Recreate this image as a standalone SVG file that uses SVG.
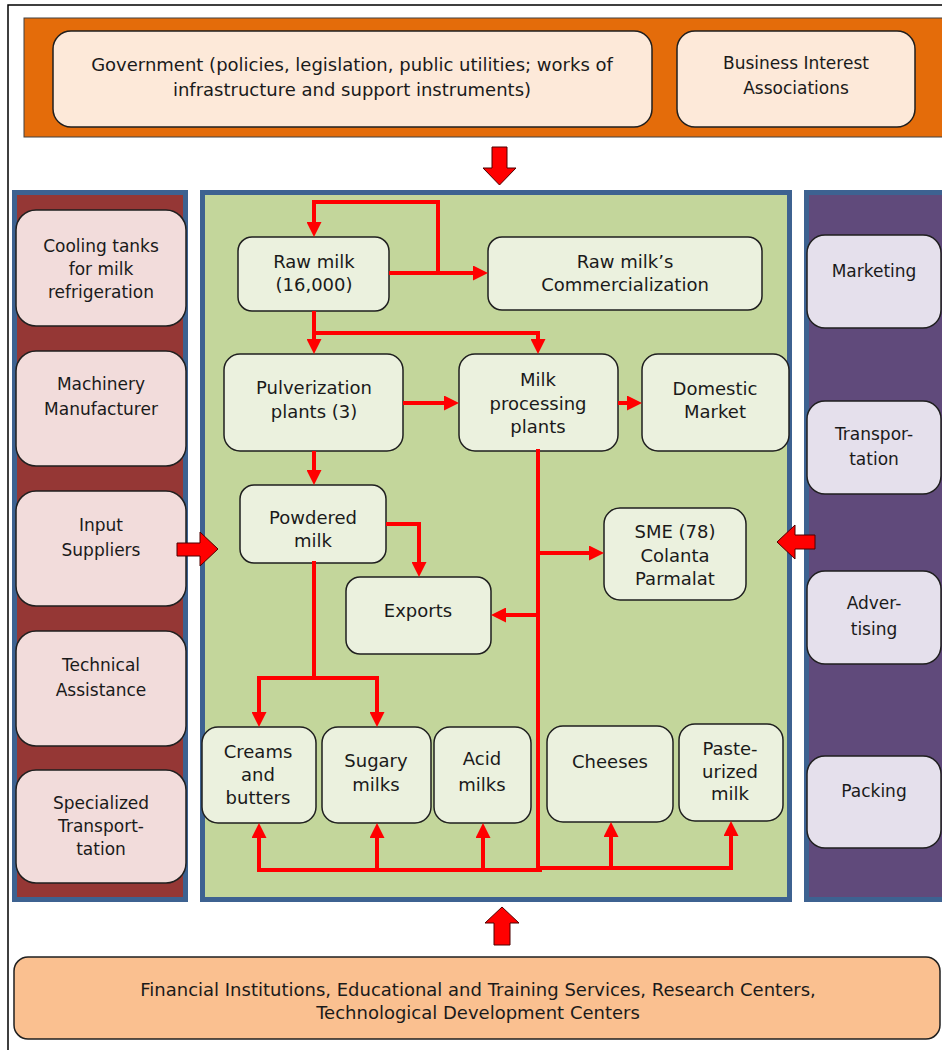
<svg xmlns="http://www.w3.org/2000/svg" width="942" height="1050" viewBox="0 0 942 1050">
  <style>
    text { font-family: "DejaVu Sans", "Liberation Sans", sans-serif; fill: #1a1a1a; text-anchor: middle; }
    .t17 { font-size: 17px; }
    .t18 { font-size: 18px; }
    .panel { stroke: #3d6291; stroke-width: 5; }
    .box { stroke: #1f1f1f; stroke-width: 1.5; }
    .pink { fill: #f2dcdb; }
    .green { fill: #ebf1de; }
    .lilac { fill: #e5e0ec; }
    .peach { fill: #fde9d9; }
    .flow { fill: none; stroke: #ff0000; stroke-width: 4; stroke-linejoin: miter; }
    .bus { fill: none; stroke: #ff0000; stroke-width: 4; stroke-linecap: square; }
    .arrow { marker-end: url(#head); }
    .block { fill: #ff0000; stroke: #4d0000; stroke-width: 1; }
  </style>
  <defs>
    <marker id="head" viewBox="0 0 15 15" refX="10" refY="7.5" markerWidth="15" markerHeight="15" markerUnits="userSpaceOnUse" orient="auto">
      <path d="M0,0 L15,7.5 L0,15 z" fill="#ff0000"/>
    </marker>
  </defs>

  <!-- page frame -->
  <rect x="8" y="5" width="960" height="1060" fill="#ffffff" stroke="#000000" stroke-width="1.5"/>

  <!-- top band: public sector and associations -->
  <g id="top-band">
    <rect x="24" y="18" width="930" height="119" fill="#e46c0a" stroke="#404040" stroke-width="1"/>
  </g>
  <g id="government">
    <rect class="box peach" x="53" y="31" width="599" height="96" rx="18"/>
    <text class="t18" x="352" y="71">Government (policies, legislation, public utilities; works of</text>
    <text class="t18" x="352" y="96">infrastructure and support instruments)</text>
  </g>
  <g id="business-associations">
    <rect class="box peach" x="677" y="31" width="238" height="96" rx="18"/>
    <text class="t17" x="796" y="69">Business Interest</text>
    <text class="t17" x="796" y="94">Associations</text>
  </g>

  <!-- side and central panels -->
  <g id="panel-suppliers">
    <rect class="panel" x="14.5" y="192.5" width="171" height="707" fill="#953735"/>
  </g>
  <g id="panel-chain">
    <rect class="panel" x="202.5" y="192.5" width="587" height="707" fill="#c3d69b"/>
  </g>
  <g id="panel-services">
    <rect class="panel" x="806.5" y="192.5" width="160" height="707" fill="#604a7b"/>
  </g>

  <!-- supplier column -->
  <g id="cooling-tanks">
    <rect class="box pink" x="16" y="210" width="170" height="116" rx="20"/>
    <text class="t17" x="101" y="252">Cooling tanks</text>
    <text class="t17" x="101" y="275">for milk</text>
    <text class="t17" x="101" y="298">refrigeration</text>
  </g>
  <g id="machinery">
    <rect class="box pink" x="16" y="351" width="170" height="115" rx="20"/>
    <text class="t17" x="101" y="390">Machinery</text>
    <text class="t17" x="101" y="415">Manufacturer</text>
  </g>
  <g id="input-suppliers">
    <rect class="box pink" x="16" y="491" width="170" height="115" rx="20"/>
    <text class="t17" x="101" y="531">Input</text>
    <text class="t17" x="101" y="556">Suppliers</text>
  </g>
  <g id="technical-assistance">
    <rect class="box pink" x="16" y="631" width="170" height="115" rx="20"/>
    <text class="t17" x="101" y="671">Technical</text>
    <text class="t17" x="101" y="696">Assistance</text>
  </g>
  <g id="specialized-transport">
    <rect class="box pink" x="16" y="770" width="170" height="113" rx="20"/>
    <text class="t17" x="101" y="809">Specialized</text>
    <text class="t17" x="101" y="832">Transport-</text>
    <text class="t17" x="101" y="855">tation</text>
  </g>

  <!-- services column -->
  <g id="marketing">
    <rect class="box lilac" x="807" y="235" width="134" height="93" rx="18"/>
    <text class="t17" x="874" y="277">Marketing</text>
  </g>
  <g id="transportation">
    <rect class="box lilac" x="807" y="401" width="134" height="93" rx="18"/>
    <text class="t17" x="874" y="440">Transpor-</text>
    <text class="t17" x="874" y="465">tation</text>
  </g>
  <g id="advertising">
    <rect class="box lilac" x="807" y="571" width="134" height="93" rx="18"/>
    <text class="t17" x="874" y="609">Adver-</text>
    <text class="t17" x="874" y="635">tising</text>
  </g>
  <g id="packing">
    <rect class="box lilac" x="807" y="756" width="134" height="92" rx="18"/>
    <text class="t17" x="874" y="797">Packing</text>
  </g>

  <!-- dairy chain nodes -->
  <g id="raw-milk">
    <rect class="box green" x="238" y="237" width="151" height="74" rx="14"/>
    <text class="t18" x="314" y="268">Raw milk</text>
    <text class="t18" x="314" y="291">(16,000)</text>
  </g>
  <g id="raw-milk-commercialization">
    <rect class="box green" x="488" y="237" width="274" height="73" rx="14"/>
    <text class="t18" x="625" y="268">Raw milk’s</text>
    <text class="t18" x="625" y="291">Commercialization</text>
  </g>
  <g id="pulverization">
    <rect class="box green" x="224" y="354" width="179" height="97" rx="16"/>
    <text class="t18" x="314" y="394">Pulverization</text>
    <text class="t18" x="314" y="418">plants (3)</text>
  </g>
  <g id="milk-processing">
    <rect class="box green" x="459" y="354" width="159" height="97" rx="16"/>
    <text class="t18" x="538" y="386">Milk</text>
    <text class="t18" x="538" y="410">processing</text>
    <text class="t18" x="538" y="433">plants</text>
  </g>
  <g id="domestic-market">
    <rect class="box green" x="642" y="354" width="147" height="97" rx="16"/>
    <text class="t18" x="715" y="395">Domestic</text>
    <text class="t18" x="715" y="418">Market</text>
  </g>
  <g id="powdered-milk">
    <rect class="box green" x="240" y="485" width="146" height="78" rx="14"/>
    <text class="t18" x="313" y="524">Powdered</text>
    <text class="t18" x="313" y="547">milk</text>
  </g>
  <g id="sme">
    <rect class="box green" x="604" y="508" width="142" height="92" rx="16"/>
    <text class="t18" x="675" y="538">SME (78)</text>
    <text class="t18" x="675" y="562">Colanta</text>
    <text class="t18" x="675" y="585">Parmalat</text>
  </g>
  <g id="exports">
    <rect class="box green" x="346" y="577" width="145" height="77" rx="14"/>
    <text class="t18" x="418" y="617">Exports</text>
  </g>
  <g id="creams-butters">
    <rect class="box green" x="202" y="727" width="114" height="96" rx="16"/>
    <text class="t18" x="258" y="758">Creams</text>
    <text class="t18" x="258" y="781">and</text>
    <text class="t18" x="258" y="804">butters</text>
  </g>
  <g id="sugary-milks">
    <rect class="box green" x="322" y="727" width="109" height="96" rx="16"/>
    <text class="t18" x="376" y="767">Sugary</text>
    <text class="t18" x="376" y="791">milks</text>
  </g>
  <g id="acid-milks">
    <rect class="box green" x="434" y="727" width="97" height="96" rx="16"/>
    <text class="t18" x="482" y="765">Acid</text>
    <text class="t18" x="482" y="791">milks</text>
  </g>
  <g id="cheeses">
    <rect class="box green" x="547" y="726" width="126" height="96" rx="16"/>
    <text class="t18" x="610" y="768">Cheeses</text>
  </g>
  <g id="pasteurized-milk">
    <rect class="box green" x="679" y="724" width="104" height="97" rx="16"/>
    <text class="t18" x="730" y="755">Paste-</text>
    <text class="t18" x="730" y="778">urized</text>
    <text class="t18" x="730" y="800">milk</text>
  </g>

  <!-- support institutions -->
  <g id="institutions">
    <rect class="box" x="14" y="957" width="926" height="82" rx="14" fill="#fac090"/>
    <text class="t18" x="478" y="996">Financial Institutions, Educational and Training Services, Research Centers,</text>
    <text class="t18" x="478" y="1019">Technological Development Centers</text>
  </g>

  <!-- flows between nodes -->
  <g id="connectors">
    <path class="flow arrow" d="M438,273 V202 H314 V232"/>
    <path class="flow arrow" d="M389,273 H483"/>
    <path class="flow arrow" d="M314,311 V349"/>
    <path class="flow arrow" d="M314,333 H538 V349"/>
    <path class="flow arrow" d="M403,403 H454"/>
    <path class="flow arrow" d="M618,403 H637"/>
    <path class="flow arrow" d="M314,451 V480"/>
    <path class="flow arrow" d="M386,524 H419 V572"/>
    <path class="bus" d="M538,451 V868"/>
    <path class="flow arrow" d="M538,553 H599"/>
    <path class="flow arrow" d="M538,615 H496"/>
    <path class="bus" d="M314,563 V678"/>
    <path class="bus" d="M259,678 H377"/>
    <path class="flow arrow" d="M259,678 V722"/>
    <path class="flow arrow" d="M377,678 V722"/>
    <path class="bus" d="M259,870 H540"/>
    <path class="bus" d="M538,868 H731"/>
    <path class="flow arrow" d="M259,870 V828"/>
    <path class="flow arrow" d="M377,870 V828"/>
    <path class="flow arrow" d="M483,870 V828"/>
    <path class="flow arrow" d="M611,868 V827"/>
    <path class="flow arrow" d="M731,868 V826"/>

    <!-- influence arrows from the surrounding sectors -->
    <polygon class="block" points="492,147 507,147 507,168 516,168 499.5,185 483,168 492,168"/>
    <polygon class="block" points="502,907 519,923 510,923 510,945 494,945 494,923 485,923"/>
    <polygon class="block" points="177,543 200,543 200,532 218,549 200,566 200,556 177,556"/>
    <polygon class="block" points="777,542 795,525 795,535 815,535 815,549 795,549 795,559"/>
  </g>
</svg>
